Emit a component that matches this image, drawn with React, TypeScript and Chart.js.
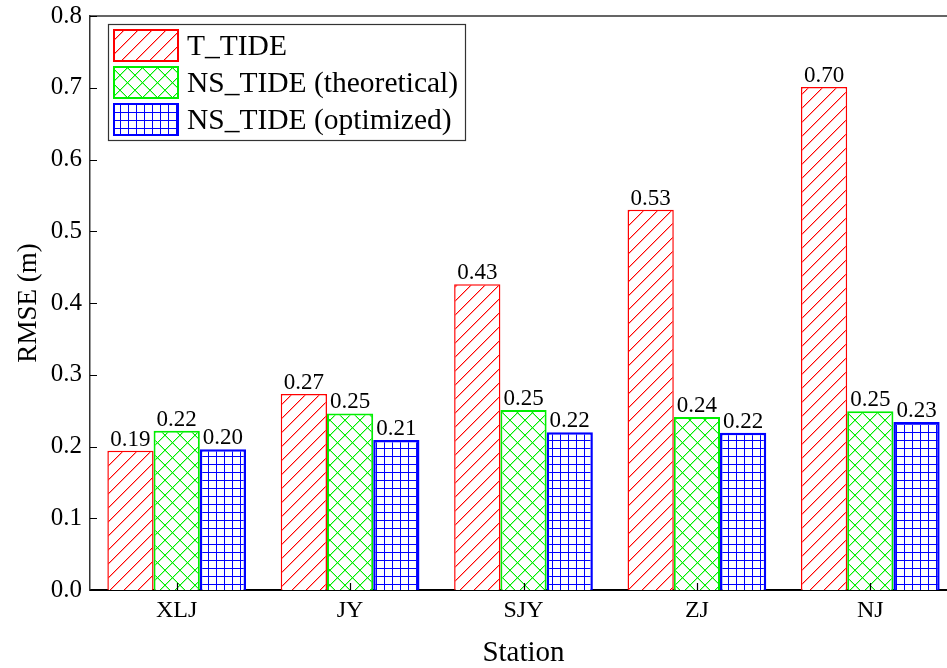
import React, { useEffect, useRef } from 'react';
import { Chart, registerables } from 'chart.js';

Chart.register(...registerables);

const stations = ['XLJ', 'JY', 'SJY', 'ZJ', 'NJ'];
const tTide = [0.194, 0.273, 0.426, 0.53, 0.701];
const nsTheoretical = [0.222, 0.246, 0.251, 0.241, 0.249];
const nsOptimized = [0.196, 0.209, 0.22, 0.219, 0.234];
const seriesNames = ['T_TIDE', 'NS_TIDE (theoretical)', 'NS_TIDE (optimized)'];
const yTickValues = [0, 0.1, 0.2, 0.3, 0.4, 0.5, 0.6, 0.7, 0.8];

const SERIF = '"Liberation Serif", "DejaVu Serif", serif';

function makeTile(size: number, draw: (c: CanvasRenderingContext2D, s: number) => void) {
  const cv = document.createElement('canvas');
  cv.width = size;
  cv.height = size;
  const c = cv.getContext('2d')!;
  c.fillStyle = '#ffffff';
  c.fillRect(0, 0, size, size);
  draw(c, size);
  return c.createPattern(cv, 'repeat')!;
}

function redPattern() {
  return makeTile(14, (c, s) => {
    for (let i = 0; i < s; i++) {
      c.fillStyle = '#ff0000';
      c.fillRect(i, s - 1 - i, 1, 1);
      c.fillStyle = 'rgba(255,0,0,0.35)';
      c.fillRect(i, (s - i) % s, 1, 1);
    }
  });
}
function greenPattern() {
  return makeTile(15, (c, s) => {
    for (let i = 0; i < s; i++) {
      c.fillStyle = '#00ee00';
      c.fillRect(i, s - 1 - i, 1, 1);
      c.fillRect(i, i, 1, 1);
      c.fillStyle = 'rgba(0,238,0,0.35)';
      c.fillRect(i, (s - i) % s, 1, 1);
      c.fillRect(i, (i + 1) % s, 1, 1);
    }
  });
}
function bluePattern() {
  return makeTile(8, (c, s) => {
    c.fillStyle = '#0000ff';
    c.fillRect(0, 0, s, 1);
    c.fillRect(0, 0, 1, s);
  });
}

const framePlugin = {
  id: 'frameTicks',
  afterDraw(chart: any) {
    const { ctx, chartArea } = chart;
    const x = chart.scales.x;
    const y = chart.scales.y;
    ctx.save();
    ctx.strokeStyle = '#333333';
    ctx.lineWidth = 1.5;
    ctx.beginPath();
    ctx.moveTo(chartArea.left, chartArea.top);
    ctx.lineTo(chartArea.right, chartArea.top);
    ctx.lineTo(chartArea.right, chartArea.bottom);
    ctx.stroke();
    ctx.strokeStyle = '#000000';
    ctx.lineWidth = 1.2;
    ctx.beginPath();
    yTickValues.forEach((v) => {
      const py = Math.round(y.getPixelForValue(v)) + 0.5;
      ctx.moveTo(chartArea.left, py);
      ctx.lineTo(chartArea.left + 7, py);
    });
    stations.forEach((_, i) => {
      const px = Math.round(x.getPixelForValue(i)) + 0.5;
      ctx.moveTo(px, chartArea.bottom);
      ctx.lineTo(px, chartArea.bottom - 7);
    });
    ctx.stroke();
    ctx.restore();
  },
};

const labelPlugin = {
  id: 'barLabels',
  afterDatasetsDraw(chart: any) {
    const { ctx } = chart;
    ctx.save();
    ctx.font = `23px ${SERIF}`;
    ctx.fillStyle = '#000000';
    ctx.textAlign = 'center';
    ctx.textBaseline = 'alphabetic';
    chart.data.datasets.forEach((ds: any, di: number) => {
      const meta = chart.getDatasetMeta(di);
      meta.data.forEach((bar: any, i: number) => {
        const v = ds.data[i] as number;
        ctx.fillText(v.toFixed(2), bar.x, bar.y - 5);
      });
    });
    ctx.restore();
  },
};

const legendPlugin = {
  id: 'innerLegend',
  afterDraw(chart: any) {
    const { ctx } = chart;
    ctx.save();
    ctx.fillStyle = '#ffffff';
    ctx.fillRect(108, 24, 358, 117);
    ctx.strokeStyle = '#333333';
    ctx.lineWidth = 1.2;
    ctx.strokeRect(108.5, 24.5, 357, 116);
    chart.data.datasets.forEach((ds: any, i: number) => {
      const top = 29 + i * 37;
      ctx.fillStyle = ds.backgroundColor;
      ctx.fillRect(113, top, 66, 33);
      ctx.strokeStyle = ds.borderColor;
      ctx.lineWidth = 2;
      ctx.strokeRect(114, top + 1, 64, 31);
      ctx.fillStyle = '#000000';
      ctx.font = `29.5px ${SERIF}`;
      ctx.textAlign = 'left';
      ctx.textBaseline = 'alphabetic';
      ctx.fillText(ds.label, 187, top + 26);
    });
    ctx.restore();
  },
};

export default function App() {
  const ref = useRef<HTMLCanvasElement | null>(null);

  useEffect(() => {
    document.body.style.margin = '0';
    document.body.style.overflow = 'hidden';
    const canvas = ref.current!;
    const chart = new Chart(canvas, {
      type: 'bar',
      data: {
        labels: stations,
        datasets: [
          {
            label: seriesNames[0],
            data: tTide,
            backgroundColor: redPattern() as any,
            borderColor: '#ff0000',
            borderWidth: 1.5,
          },
          {
            label: seriesNames[1],
            data: nsTheoretical,
            backgroundColor: greenPattern() as any,
            borderColor: '#00ee00',
            borderWidth: 2,
          },
          {
            label: seriesNames[2],
            data: nsOptimized,
            backgroundColor: bluePattern() as any,
            borderColor: '#0000ff',
            borderWidth: 2.5,
          },
        ],
      },
      options: {
        responsive: false,
        animation: false,
        events: [],
        layout: { padding: { left: 0, right: 3, top: 16, bottom: 0 } },
        datasets: {
          bar: { categoryPercentage: 0.8, barPercentage: 1.0 },
        },
        plugins: {
          legend: { display: false },
          tooltip: { enabled: false },
        },
        scales: {
          x: {
            grid: { display: false, drawTicks: false },
            border: { display: true, color: '#000000', width: 2 },
            ticks: {
              color: '#000000',
              font: { family: SERIF, size: 24 },
              padding: 6,
            },
            title: {
              display: true,
              text: 'Station',
              color: '#000000',
              font: { family: SERIF, size: 29, lineHeight: 1 },
              padding: { top: 0, bottom: 0 },
            },
            afterFit: (s: any) => {
              s.height = 78;
            },
          },
          y: {
            min: 0,
            max: 0.8,
            grid: { display: false, drawTicks: false },
            border: { display: true, color: '#333333', width: 1.5 },
            afterBuildTicks: (s: any) => {
              s.ticks = yTickValues.map((v) => ({ value: v }));
            },
            ticks: {
              color: '#000000',
              font: { family: SERIF, size: 25 },
              padding: 8,
              callback: (v: any) => Number(v).toFixed(1),
            },
            title: {
              display: true,
              text: 'RMSE (m)',
              color: '#000000',
              font: { family: SERIF, size: 27, lineHeight: 1.2 },
              padding: { top: 13, bottom: 0 },
            },
            afterFit: (s: any) => {
              s.width = 90;
              s.paddingTop = 0;
              s.paddingBottom = 0;
            },
          },
        },
      },
      plugins: [labelPlugin, framePlugin, legendPlugin],
    });
    return () => chart.destroy();
  }, []);

  return (
    <div style={{ position: 'fixed', left: 0, top: 0, width: 947, height: 668, overflow: 'hidden', background: '#ffffff' }}>
      <canvas ref={ref} width={960} height={668} style={{ display: 'block', width: 960, height: 668 }} />
    </div>
  );
}
